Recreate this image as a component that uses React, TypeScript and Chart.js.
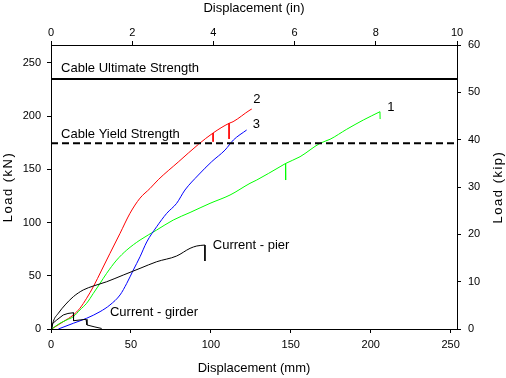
import React, { useEffect, useRef } from "react";
import { Chart, registerables } from "chart.js";

Chart.register(...registerables);

// ---- Data (displacement in mm, load in kN) ----
// Specimen 1 (green)
const spec1X = [0.4, 5.6, 9.8, 14, 18.1, 22.3, 26.5, 30.7, 34.8, 41.1, 47.4, 55.7, 66.1, 76.5, 87, 99.5, 112, 124.5, 128.7, 143.3, 146.7, 155.8, 168.3, 174.6, 185, 195.4, 205.8];
const spec1Y = [0, 5.4, 8.5, 11.6, 17.9, 24.2, 33.5, 42.9, 52.3, 64.8, 74.2, 83.6, 93, 102.4, 109.5, 118.1, 125.9, 136.9, 140, 152.5, 155.5, 161.9, 174.5, 178.3, 187.7, 196.4, 204.2];
const spec1DropX = [146.7, 146.8, 205.8, 205.9];
const spec1DropY = [155.5, 140, 204.2, 197.3];

// Specimen 2 (red)
const spec2X = [0.4, 7.7, 14, 18.1, 22.3, 26.5, 31.7, 36.9, 43.2, 49.4, 55.7, 61.9, 67.1, 79.6, 92.2, 101.4, 111.4, 113.9, 124.5, 125.6];
const spec2Y = [0, 6.9, 13.2, 19.5, 28.9, 39.8, 55.4, 71.1, 89.9, 108.7, 123, 132, 140.3, 156.9, 173.5, 184.2, 193.3, 194.8, 205.8, 206.7];
const spec2DropX = [101.4, 101.4, 111.4, 111.4];
const spec2DropY = [184.2, 176, 193.3, 178.6];

// Specimen 3 (blue)
const spec3X = [4.6, 14, 22.3, 30.7, 36.9, 43.2, 47.4, 51.5, 55.7, 59.9, 66.1, 72.4, 78.6, 83.8, 92.2, 100.5, 108.9, 114.1, 122.4];
const spec3Y = [0, 5.4, 10.1, 16.3, 22.6, 32, 42.9, 55.4, 67.9, 81.8, 96.1, 108.7, 118.1, 130.6, 144.7, 157.2, 168.2, 177.6, 187];

// Current - pier (black)
const pierX = [0.4, 1.4, 4.6, 8.8, 14, 20.2, 26.5, 34.8, 45.2, 55.7, 66.1, 78.6, 87, 91.2, 96.3];
const pierY = [0, 6.9, 14.8, 22.6, 30.4, 36.7, 40.4, 44.4, 50.7, 57, 63.2, 68.6, 75.8, 78, 78.9];
const pierDropX = [96.3, 96.3];
const pierDropY = [78.9, 63.9];

// Current - girder (black)
const girderX = [0.4, 0.9, 3.6, 7.7, 10.6, 14, 14.1, 21.9, 22.5, 27.5, 31.7];
const girderY = [0, 5, 8.5, 13.2, 14.6, 15.3, 7.8, 9.1, 3.8, 1.9, 0.5];

const ultimateLoad = 235;
const yieldLoad = 174.5;
const lineSpanX = [0, 254];

// ---- Axes ----
const mmTicks = [0, 50, 100, 150, 200, 250];
const inTicks = [0, 2, 4, 6, 8, 10];
const kNTicks = [0, 50, 100, 150, 200, 250];
const kipTicks = [0, 10, 20, 30, 40, 50, 60];
const mmMax = 254;
const inMax = 10;
const kipMax = 60;
const kNMax = 266.89;
const leftTitle = "Load (kN)";
const rightTitle = "Load (kip)";

// ---- Annotations (x in mm, y in kN) ----
const noteTexts = ["Cable Ultimate Strength", "Cable Yield Strength", "2", "3", "1", "Current - pier", "Current - girder"];
const noteX = [6.3, 6.3, 126.5, 126.2, 210.4, 101.2, 36.9];
const noteY = [245, 183.3, 215.9, 192.4, 208.3, 78.5, 16];

const FONT = "'Liberation Sans', Arial, sans-serif";

function pts(xs: number[], ys: number[]) {
  return xs.map((x, i) => ({ x, y: ys[i] }));
}
function segs(xs: number[], ys: number[]) {
  const out: any[] = [];
  for (let i = 0; i < xs.length; i += 2) {
    if (i > 0) out.push({ x: xs[i], y: null });
    out.push({ x: xs[i], y: ys[i] }, { x: xs[i + 1], y: ys[i + 1] });
  }
  return out;
}

const notesPlugin = {
  id: "notes",
  afterDatasetsDraw(chart: any) {
    const ctx = chart.ctx;
    const sx = chart.scales.x;
    const sy = chart.scales.y;
    const sy2 = chart.scales.y2;
    ctx.save();
    ctx.fillStyle = "#000";
    ctx.font = `13px ${FONT}`;
    ctx.textAlign = "left";
    ctx.textBaseline = "middle";
    noteTexts.forEach((t, i) => {
      ctx.fillText(t, sx.getPixelForValue(noteX[i]), sy.getPixelForValue(noteY[i]));
    });
    ctx.restore();

    // vertical axis titles, both reading bottom-to-top
    const midY = (sy.top + sy.bottom) / 2;
    [
      [leftTitle, sy.left + 8],
      [rightTitle, sy2.right - 8],
    ].forEach(([t, x]: any) => {
      ctx.save();
      ctx.fillStyle = "#000";
      ctx.font = `13px ${FONT}`;
      try { (ctx as any).letterSpacing = "1.5px"; } catch (e) {}
      ctx.textAlign = "center";
      ctx.textBaseline = "middle";
      ctx.translate(x, midY);
      ctx.rotate(-Math.PI / 2);
      ctx.fillText(t, 0, 0);
      ctx.restore();
    });
  },
};

function axisCommon(ticks: number[], size: number, pad: number, titleText: string, titlePad: any, isH: boolean, showTitle = true) {
  return {
    type: "linear",
    afterBuildTicks: (s: any) => {
      s.ticks = ticks.map((v) => ({ value: v }));
    },
    afterFit: (s: any) => {
      if (isH) s.height = size;
      else s.width = size;
    },
    ticks: {
      color: "#000",
      font: { size: 11, family: FONT },
      padding: pad,
      maxRotation: 0,
      autoSkip: false,
    },
    grid: {
      display: true,
      drawOnChartArea: false,
      drawTicks: true,
      tickLength: 4,
      color: "#000",
      tickColor: "#000",
      lineWidth: 1,
    },
    border: { display: true, color: "#000", width: 1 },
    title: {
      display: showTitle,
      text: titleText,
      color: "#000",
      font: { size: 13, family: FONT },
      padding: titlePad,
    },
  };
}

export default function App() {
  const ref = useRef<HTMLCanvasElement>(null);

  useEffect(() => {
    if (!ref.current) return;
    const line = (data: any, color: string, width = 1, dash: number[] = [], smooth = false) => ({
      data,
      borderColor: color,
      backgroundColor: color,
      borderWidth: width,
      borderDash: dash,
      pointRadius: 0,
      tension: 0,
      spanGaps: false,
      cubicInterpolationMode: smooth ? "monotone" : "default",
      fill: false,
      xAxisID: "x",
      yAxisID: "y",
    });
    const chart = new Chart(ref.current, {
      type: "line",
      data: {
        datasets: [
          line(pts(lineSpanX, [ultimateLoad, ultimateLoad]), "#000", 2),
          line(pts(lineSpanX, [yieldLoad, yieldLoad]), "#000", 2, [7, 4]),
          line(pts(girderX, girderY), "#000"),
          line(pts(pierX, pierY), "#000", 1, [], true),
          line(segs(pierDropX, pierDropY), "#000"),
          line(pts(spec3X, spec3Y), "#0000ff", 1, [], true),
          line(pts(spec1X, spec1Y), "#00ff00", 1, [], true),
          line(segs(spec1DropX, spec1DropY), "#00ff00"),
          line(pts(spec2X, spec2Y), "#ff0000", 1, [], true),
          line(segs(spec2DropX, spec2DropY), "#ff0000"),
        ] as any,
      },
      options: {
        animation: false,
        responsive: false,
        layout: { padding: 0 },
        plugins: { legend: { display: false }, tooltip: { enabled: false } },
        scales: {
          x: { ...axisCommon(mmTicks, 49, 5, "Displacement (mm)", { top: 0, bottom: 2 }, true), position: "bottom", min: 0, max: mmMax },
          x2: { ...axisCommon(inTicks, 45, 1, "Displacement (in)", { top: 1, bottom: 0 }, true), position: "top", min: 0, max: inMax },
          y: { ...axisCommon(kNTicks, 51, 6, leftTitle, { top: 0, bottom: 0 }, false, false), position: "left", min: 0, max: kNMax },
          y2: { ...axisCommon(kipTicks, 49, 7, rightTitle, { top: 0, bottom: 0 }, false, false), position: "right", min: 0, max: kipMax },
        } as any,
      },
      plugins: [notesPlugin],
    });
    return () => chart.destroy();
  }, []);

  return (
    <div style={{ position: "fixed", left: 0, top: 0, width: 506, height: 378, background: "#fff" }}>
      <canvas ref={ref} width={506} height={378} style={{ width: 506, height: 378, display: "block" }} />
    </div>
  );
}
